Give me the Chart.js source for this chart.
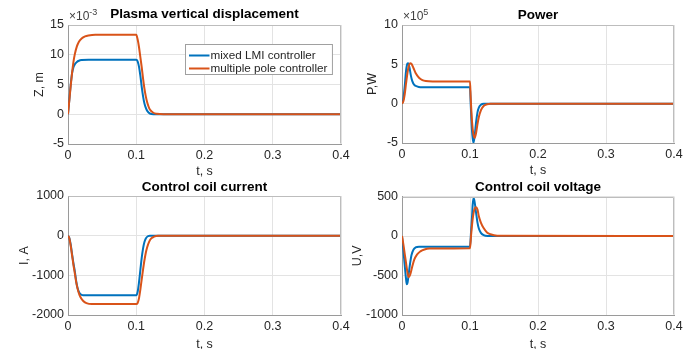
<!DOCTYPE html>
<html><head><meta charset="utf-8">
<script src="https://cdn.jsdelivr.net/npm/chart.js@4.4.1/dist/chart.umd.min.js"></script>
<style>
html,body{margin:0;padding:0;background:#fff;}
#wrap{position:relative;width:691px;height:349px;overflow:hidden;}
canvas{position:absolute;left:0;top:0;}
</style></head><body>
<div id="wrap">
<canvas id="c1" width="691" height="360"></canvas>
<canvas id="c2" width="691" height="360"></canvas>
<canvas id="c3" width="691" height="360"></canvas>
<canvas id="c4" width="691" height="360"></canvas>
</div>
<script>
// ---------------- DATA ----------------
const seriesNames = ['mixed LMI controller', 'multiple pole controller'];
const xTicks = [0, 0.1, 0.2, 0.3, 0.4];
const xTickLabels = ['0', '0.1', '0.2', '0.3', '0.4'];

// Plasma vertical displacement (x10^-3 m)
const zTicks = [-5, 0, 5, 10, 15];
const zTickLabels = ['-5', '0', '5', '10', '15'];
const zT_lmi = [0, 0.002, 0.004, 0.006, 0.008, 0.010, 0.013, 0.016, 0.020, 0.030, 0.100, 0.102, 0.104, 0.106, 0.108, 0.110, 0.112, 0.115, 0.118, 0.122, 0.130, 0.400];
const zV_lmi = [0, 2.5, 5.0, 6.9, 7.9, 8.4, 8.8, 9.0, 9.1, 9.15, 9.15, 8.9, 8.0, 6.5, 4.6, 3.0, 1.8, 0.8, 0.3, 0.05, 0, 0];
const zT_mp = [0, 0.002, 0.004, 0.006, 0.008, 0.010, 0.013, 0.016, 0.020, 0.025, 0.030, 0.040, 0.100, 0.102, 0.104, 0.106, 0.108, 0.110, 0.112, 0.114, 0.116, 0.118, 0.120, 0.125, 0.130, 0.140, 0.400];
const zV_mp = [0, 2.4, 4.8, 7.0, 8.8, 10.1, 11.4, 12.2, 12.75, 13.1, 13.25, 13.36, 13.36, 12.6, 11.3, 9.6, 7.9, 6.0, 4.3, 3.0, 2.0, 1.3, 0.8, 0.25, 0.08, 0, 0];

// Power (x10^5 W)
const pTicks = [-5, 0, 5, 10];
const pTickLabels = ['-5', '0', '5', '10'];
const pT_lmi = [0, 0.002, 0.004, 0.006, 0.008, 0.009, 0.011, 0.013, 0.015, 0.018, 0.022, 0.027, 0.100, 0.101, 0.103, 0.105, 0.107, 0.109, 0.111, 0.113, 0.116, 0.120, 0.400];
const pV_lmi = [0, 0.6, 2.2, 4.2, 5.1, 5.15, 4.6, 3.6, 2.9, 2.4, 2.2, 2.1, 2.1, 0, -3.5, -5.0, -4.0, -2.3, -1.1, -0.5, -0.15, 0, 0];
const pT_mp = [0, 0.002, 0.004, 0.006, 0.008, 0.010, 0.012, 0.014, 0.017, 0.020, 0.025, 0.030, 0.035, 0.045, 0.100, 0.101, 0.103, 0.105, 0.107, 0.109, 0.111, 0.113, 0.116, 0.120, 0.125, 0.130, 0.400];
const pV_mp = [0, 0.3, 1.2, 2.6, 3.9, 4.8, 5.15, 5.05, 4.5, 3.9, 3.3, 3.0, 2.88, 2.83, 2.83, 0.8, -2.3, -3.9, -4.35, -3.7, -2.6, -1.7, -0.85, -0.3, -0.08, 0, 0];

// Control coil current (A)
const iTicks = [-2000, -1000, 0, 1000];
const iTickLabels = ['-2000', '-1000', '0', '1000'];
const iT_lmi = [0, 0.002, 0.004, 0.006, 0.008, 0.010, 0.012, 0.014, 0.016, 0.018, 0.022, 0.100, 0.102, 0.104, 0.106, 0.108, 0.110, 0.112, 0.114, 0.117, 0.120, 0.400];
const iV_lmi = [0, -60, -230, -470, -700, -900, -1150, -1320, -1420, -1470, -1500, -1500, -1420, -1180, -870, -560, -320, -160, -70, -15, 0, 0];
const iT_mp = [0, 0.002, 0.004, 0.006, 0.008, 0.010, 0.012, 0.015, 0.018, 0.022, 0.027, 0.035, 0.100, 0.102, 0.104, 0.106, 0.108, 0.110, 0.112, 0.114, 0.116, 0.119, 0.122, 0.126, 0.132, 0.400];
const iV_mp = [0, -70, -260, -500, -740, -950, -1170, -1400, -1540, -1640, -1700, -1725, -1725, -1700, -1580, -1360, -1100, -850, -620, -430, -290, -150, -70, -25, 0, 0];

// Control coil voltage (V)
const uTicks = [-1000, -500, 0, 500];
const uTickLabels = ['-1000', '-500', '0', '500'];
const uT_lmi = [0, 0.002, 0.004, 0.006, 0.007, 0.008, 0.010, 0.012, 0.014, 0.017, 0.020, 0.025, 0.100, 0.1015, 0.103, 0.104, 0.1054, 0.107, 0.109, 0.111, 0.113, 0.116, 0.120, 0.126, 0.400];
const uV_lmi = [0, -180, -370, -550, -611, -595, -470, -340, -240, -170, -145, -135, -135, 50, 250, 400, 480, 420, 290, 170, 95, 40, 10, 0, 0];
const uT_mp = [0, 0.002, 0.004, 0.006, 0.008, 0.0099, 0.012, 0.015, 0.018, 0.022, 0.027, 0.033, 0.040, 0.100, 0.1015, 0.103, 0.105, 0.107, 0.109, 0.111, 0.113, 0.116, 0.120, 0.125, 0.130, 0.140, 0.400];
const uV_mp = [0, -105, -225, -345, -460, -522, -490, -390, -300, -235, -195, -170, -158, -155, 0, 140, 280, 350, 365, 335, 250, 170, 100, 45, 22, 4, 0];

// ---------------- RENDER ----------------
const FONT = '"Liberation Sans", Arial, Helvetica, sans-serif';
const BLUE = '#0072BD', ORANGE = '#D95319';
const TXT = '#262626';
const CH = 360;

function pts(t, v) { return t.map((x, i) => ({x: x, y: v[i]})); }

const decor = {
  id: 'decor',
  afterDraw(chart, args, opts) {
    const ctx = chart.ctx, a = chart.chartArea;
    ctx.save();
    ctx.strokeStyle = '#bdbdbd'; ctx.lineWidth = 1;
    const l = Math.round(a.left) + 0.5, r = Math.round(a.right) - 0.5, t = Math.round(a.top) + 0.5;
    const b = Math.round(a.bottom) - 0.5;
    ctx.beginPath(); ctx.moveTo(l, t); ctx.lineTo(r, t); ctx.lineTo(r, b); ctx.stroke();
    if (opts.exp) {
      ctx.fillStyle = '#404040'; ctx.textBaseline = 'middle'; ctx.textAlign = 'left';
      ctx.font = '12px ' + FONT;
      ctx.fillText('\u00d710', a.left + 1, a.top - 8);
      const w = ctx.measureText('\u00d710').width;
      ctx.font = '9px ' + FONT;
      ctx.fillText(opts.exp, a.left + 1 + w, a.top - 12);
    }
    if (opts.legend) {
      ctx.font = '11.7px ' + FONT;
      const ds = chart.data.datasets;
      let maxW = 0; ds.forEach(d => { maxW = Math.max(maxW, ctx.measureText(d.label).width); });
      const bw = 25 + maxW + 5, bh = 30;
      const bx = Math.round(a.right - 9 - bw) + 0.5, by = Math.round(a.top + 19) + 0.5;
      ctx.fillStyle = '#fff'; ctx.fillRect(bx, by, bw, bh);
      ctx.strokeStyle = '#a0a0a0'; ctx.strokeRect(bx, by, bw, bh);
      ds.forEach((d, i) => {
        const yy = by + 11 + i * 13;
        ctx.strokeStyle = d.borderColor; ctx.lineWidth = 2;
        ctx.beginPath(); ctx.moveTo(bx + 3.5, yy); ctx.lineTo(bx + 24, yy); ctx.stroke();
        ctx.fillStyle = TXT; ctx.textBaseline = 'middle'; ctx.textAlign = 'left';
        ctx.fillText(d.label, bx + 25, yy);
      });
    }
    ctx.restore();
  }
};

function makeChart(id, cfg) {
  const YW = 60, XH = 40;
  const padTop = cfg.titleC - 8.1 - 2;
  const titlePadBottom = cfg.T - cfg.titleC - 8.1;
  const yTitlePad = cfg.yTitleX - (cfg.L - YW) - 7.5;
  const xTitlePad = Math.max(0, XH - 7.5 - cfg.xTitleOff);
  new Chart(document.getElementById(id), {
    type: 'line',
    data: {
      datasets: [
        {label: seriesNames[0], data: pts(cfg.t1, cfg.v1), borderColor: BLUE, order: 1},
        {label: seriesNames[1], data: pts(cfg.t2, cfg.v2), borderColor: ORANGE, order: 0}
      ].map(d => Object.assign(d, {borderWidth: 2, pointRadius: 0, fill: false, cubicInterpolationMode: 'monotone'}))
    },
    options: {
      responsive: false, animation: false, devicePixelRatio: 1,
      layout: {padding: {left: cfg.L - YW, right: 691 - cfg.R, top: padTop, bottom: CH - cfg.B - XH}},
      plugins: {
        legend: {display: false}, tooltip: {enabled: false},
        title: {display: true, text: cfg.title, fullSize: false, color: '#000',
          font: {family: FONT, size: 13.5, weight: 'bold'}, padding: {top: 2, bottom: titlePadBottom}},
        decor: {exp: cfg.exp, legend: cfg.legend}
      },
      scales: {
        x: {
          type: 'linear', min: 0, max: 0.4,
          afterBuildTicks: s => { s.ticks = xTicks.map(v => ({value: v})); },
          afterFit: s => { s.height = XH; },
          ticks: {color: TXT, font: {family: FONT, size: 12.5}, padding: 4, maxRotation: 0,
            callback: (v) => xTickLabels[xTicks.indexOf(v)]},
          grid: {color: '#e3e3e3', drawTicks: false},
          border: {color: '#9a9a9a'},
          title: {display: true, text: 't, s', color: TXT, font: {family: FONT, size: 12.5}, padding: {top: 0, bottom: xTitlePad}}
        },
        y: {
          type: 'linear', min: cfg.yTicks[0], max: cfg.yTicks[cfg.yTicks.length - 1],
          afterBuildTicks: s => { s.ticks = cfg.yTicks.map(v => ({value: v})); },
          afterFit: s => { s.width = YW; },
          ticks: {color: TXT, font: {family: FONT, size: 12.5}, padding: 4,
            callback: (v) => cfg.yLabels[cfg.yTicks.indexOf(v)]},
          grid: {color: '#e3e3e3', drawTicks: false},
          border: {color: '#9a9a9a'},
          title: {display: true, text: cfg.yTitle, color: TXT, font: {family: FONT, size: 12.5}, padding: {top: yTitlePad, bottom: 0}}
        }
      }
    },
    plugins: [decor]
  });
}

makeChart('c1', {L: 68, R: 341, T: 25, B: 144, titleC: 14.5, yTitleX: 40, xTitleOff: 27.5,
  title: 'Plasma vertical displacement', yTitle: 'Z, m', yTicks: zTicks, yLabels: zTickLabels,
  t1: zT_lmi, v1: zV_lmi, t2: zT_mp, v2: zV_mp, exp: '-3', legend: true});
makeChart('c2', {L: 402, R: 674, T: 25, B: 143, titleC: 15, yTitleX: 373, xTitleOff: 27.5,
  title: 'Power', yTitle: 'P,W', yTicks: pTicks, yLabels: pTickLabels,
  t1: pT_lmi, v1: pV_lmi, t2: pT_mp, v2: pV_mp, exp: '5', legend: false});
makeChart('c3', {L: 68, R: 341, T: 196, B: 315, titleC: 187.5, yTitleX: 25, xTitleOff: 29.5,
  title: 'Control coil current', yTitle: 'I, A', yTicks: iTicks, yLabels: iTickLabels,
  t1: iT_lmi, v1: iV_lmi, t2: iT_mp, v2: iV_mp, exp: null, legend: false});
makeChart('c4', {L: 402, R: 674, T: 196.5, B: 315, titleC: 187, yTitleX: 357.7, xTitleOff: 29.5,
  title: 'Control coil voltage', yTitle: 'U,V', yTicks: uTicks, yLabels: uTickLabels,
  t1: uT_lmi, v1: uV_lmi, t2: uT_mp, v2: uV_mp, exp: null, legend: false});
</script>
</body></html>
